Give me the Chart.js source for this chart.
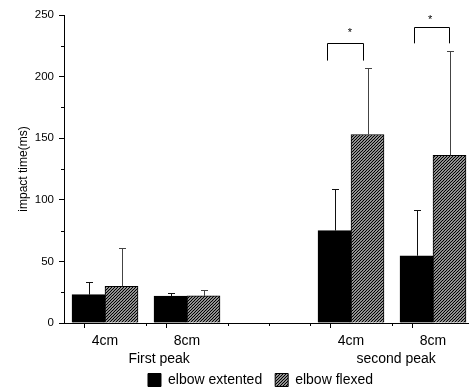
<!DOCTYPE html>
<html>
<head>
<meta charset="utf-8">
<script src="https://cdn.jsdelivr.net/npm/chart.js@4/dist/chart.umd.min.js"></script>
<style>
  html, body { margin:0; padding:0; background:#fff; overflow:hidden; }
  #wrap { width:521px; height:397px; }
</style>
</head>
<body>
<div id="wrap"><canvas id="chart"></canvas></div>
<script>
// ===== DATA =====
const tickLabels = ["", "4cm", "", "8cm", "", "", "", "4cm", "", "8cm", ""];
const extended    = [null, 23, null, 21.8, null, null, null, 75, null, 54.6, null];
const extendedErr = [null, 10.6, null, 2.7, null, null, null, 33.5, null, 37, null];
const flexed      = [null, 29.7, null, 22, null, null, null, 153, null, 136, null];
const flexedErr   = [null, 31, null, 4.8, null, null, null, 54, null, 85, null];
const groupTitles = ["First peak", "second peak"];
const groupAt     = [2.32, 8.1];
// significance brackets, in axis units
const bracketFrom = [6.41, 8.53];
const bracketTo   = [7.29, 9.39];
const bracketTop  = [227, 240];
const bracketLeg  = [213, 227];
const starAt      = [6.97, 8.93];
const starValue   = [238, 248];

const FONT = 'Arial, "Liberation Sans", sans-serif';

// ===== HATCH =====
function makeHatch(){
    const s = 3;
    const c = document.createElement("canvas");
    c.width = s; c.height = s;
    const g = c.getContext("2d");
    g.fillStyle = "#fff";
    g.fillRect(0,0,s,s);
    g.strokeStyle = "#000";
    g.lineWidth = 1.25;
    g.beginPath();
    g.moveTo(-1, s+1); g.lineTo(s+1, -1);
    g.moveTo(-1, 1); g.lineTo(1, -1);
    g.moveTo(s-1, s+1); g.lineTo(s+1, s-1);
    g.stroke();
    return g.createPattern(c, "repeat");
}

// ===== PLUGINS =====
const extras = {
    id: "extras",
    afterLayout(chart){
        // the original centres its legend a little right of the canvas middle
        chart.legend.left += 23.5;
        chart.legend.right += 23.5;
    },
    afterDatasetsDraw(chart){
        const ctx = chart.ctx;
        const xs = chart.scales.x, ys = chart.scales.y;
        const errs = [extendedErr, flexedErr];
        const vals = [extended, flexed];
        const errColor = ["#111", "#444"];
        ctx.save();
        // error bars
        errs.forEach((err, i)=>{
            const meta = chart.getDatasetMeta(i);
            ctx.strokeStyle = errColor[i];
            ctx.lineWidth = 1;
            meta.data.forEach((el, j)=>{
                if(vals[i][j] == null) return;
                const x = Math.round(el.x) + 0.5;
                const top = Math.round(ys.getPixelForValue(vals[i][j] + err[j])) + 0.5;
                ctx.beginPath();
                ctx.moveTo(x, el.y);
                ctx.lineTo(x, top);
                ctx.moveTo(x-3.5, top);
                ctx.lineTo(x+3.5, top);
                ctx.stroke();
            });
        });
        // minor ticks
        ctx.strokeStyle = "#000";
        ctx.beginPath();
        for(let v=25; v<250; v+=50){
            const y = Math.round(ys.getPixelForValue(v)) + 0.5;
            ctx.moveTo(xs.left - 3, y); ctx.lineTo(xs.left, y);
        }
        tickLabels.forEach((t, i)=>{
            if(t || i==0) return;
            const x = Math.round(xs.getPixelForValue(i)) + 0.5;
            ctx.moveTo(x, ys.bottom); ctx.lineTo(x, ys.bottom + 3);
        });
        ctx.stroke();
        // brackets
        ctx.strokeStyle = "#000";
        bracketFrom.forEach((f, i)=>{
            const x1 = Math.round(xs.getPixelForValue(f)) + 0.5;
            const x2 = Math.round(xs.getPixelForValue(bracketTo[i])) + 0.5;
            const yt = Math.round(ys.getPixelForValue(bracketTop[i])) + 0.5;
            const yl = ys.getPixelForValue(bracketLeg[i]);
            ctx.beginPath();
            ctx.moveTo(x1, yl); ctx.lineTo(x1, yt); ctx.lineTo(x2, yt); ctx.lineTo(x2, yl);
            ctx.stroke();
        });
        ctx.fillStyle = "#000";
        ctx.font = "11px " + FONT;
        ctx.textAlign = "center";
        ctx.textBaseline = "middle";
        starAt.forEach((s, i)=>{
            ctx.fillText("*", xs.getPixelForValue(s), ys.getPixelForValue(starValue[i]) + 3);
        });
        // group titles
        ctx.font = "14px " + FONT;
        groupTitles.forEach((t, i)=>{
            ctx.fillText(t, xs.getPixelForValue(groupAt[i]), xs.top + 36);
        });
        ctx.restore();
    }
};

// ===== CHART =====
const hatch = makeHatch();
new Chart(document.getElementById("chart"), {
    type: "bar",
    data: {
        labels: tickLabels,
        datasets: [
            {label:"elbow extented", data: extended, backgroundColor:"#000", borderColor:"#000", borderWidth:1, barThickness:33},
            {label:"elbow flexed", data: flexed, backgroundColor: hatch, borderColor:"#000", borderWidth:1, barThickness:33}
        ]
    },
    options: {
        responsive: true,
        maintainAspectRatio: false,
        animation: false,
        layout: {padding: {top:15, right:47, left:0, bottom:0}},
        plugins: {
            tooltip: {enabled:false},
            legend: {
                position: "bottom",
                labels: {
                    font: {family: FONT, size: 14},
                    color: "#000",
                    boxWidth: 13,
                    boxHeight: 13,
                    padding: 13
                }
            }
        },
        scales: {
            x: {
                offset: false,
                grid: {drawOnChartArea:false, tickLength:5, color:"#000",
                       tickColor: c => tickLabels[c.index] ? "#000" : "transparent"},
                border: {color:"#000", width:1},
                ticks: {font:{family:FONT, size:14}, color:"#000", padding:5,
                        autoSkip:false, maxRotation:0},
                afterFit: s => { s.height = 37; }
            },
            y: {
                min: 0, max: 250,
                grid: {drawOnChartArea:false, tickLength:5, color:"#000"},
                border: {color:"#000", width:1},
                ticks: {stepSize:50, font:{family:FONT, size:11.5}, color:"#000", padding:5},
                title: {display:true, text:"impact time(ms)", font:{family:FONT, size:12}, color:"#000", padding:{top:16, bottom:0}},
                afterFit: s => { s.width = 64; }
            }
        }
    },
    plugins: [extras]
});
</script>
</body>
</html>
